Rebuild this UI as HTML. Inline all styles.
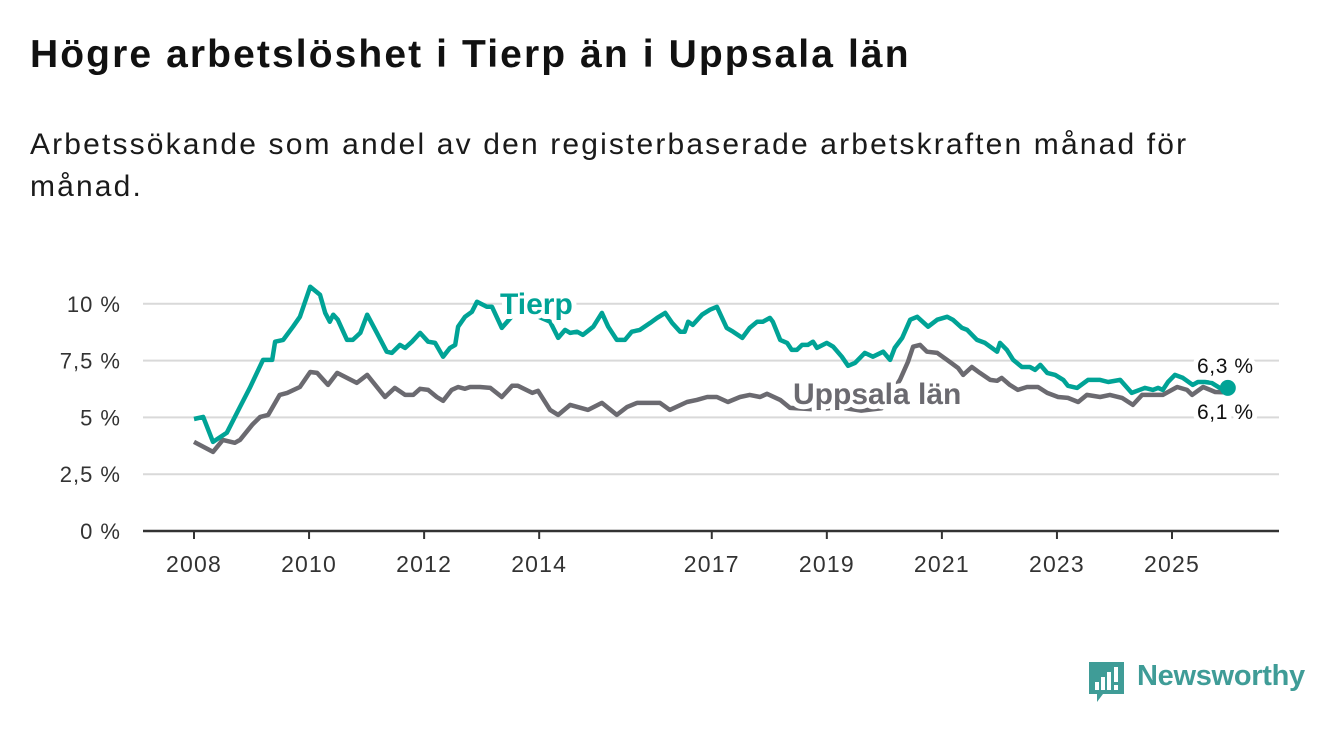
<!DOCTYPE html>
<html><head><meta charset="utf-8"><style>
body{margin:0;width:1340px;height:734px;background:#fff;overflow:hidden;font-family:"Liberation Sans",sans-serif;color:#111}
#title{position:absolute;left:30px;top:33px;font-size:39px;letter-spacing:2.1px;font-weight:bold;margin:0;white-space:nowrap}
#sub{position:absolute;left:30px;top:124px;font-size:30px;letter-spacing:2.15px;line-height:42px;width:1300px;color:#1a1a1a;white-space:nowrap}
svg{position:absolute;left:0;top:0}
.lbl{font-family:"Liberation Sans",sans-serif;paint-order:stroke;stroke:#fff;stroke-width:10px;stroke-linejoin:round}
</style></head><body>
<h1 id="title">Högre arbetslöshet i Tierp än i Uppsala län</h1>
<div id="sub">Arbetssökande som andel av den registerbaserade arbetskraften månad för<br>månad.</div>
<svg id="chart" width="1340" height="734"></svg>
<div style="position:absolute;left:1089px;top:662px;">
<svg width="36" height="42" style="position:static"><path d="M0 0H35V32H14L8 40V32H0Z" fill="#3f9c97"/><rect x="6" y="20" width="4" height="8" fill="#fff"/><rect x="12" y="15" width="4" height="13" fill="#fff"/><rect x="18" y="10" width="4" height="18" fill="#fff"/><rect x="25" y="5" width="4" height="15" fill="#fff"/><rect x="25" y="23" width="4" height="5" fill="#fff"/></svg>
<span style="position:absolute;left:48px;top:-2px;font-size:29px;color:#3f9c97;font-weight:bold;white-space:nowrap;letter-spacing:-0.3px">Newsworthy</span></div>
<script>
const yTicks=[0,2.5,5,7.5,10];
const yTickLabels=["0 %","2,5 %","5 %","7,5 %","10 %"];
const xTicks=[2008,2010,2012,2014,2017,2019,2021,2023,2025];
const tierpDates=[2008.0,2008.16,2008.33,2008.57,2008.8,2008.97,2009.2,2009.36,2009.41,2009.55,2009.72,2009.84,2010.02,2010.19,2010.28,2010.36,2010.42,2010.5,2010.66,2010.76,2010.89,2011.01,2011.18,2011.35,2011.44,2011.58,2011.67,2011.79,2011.93,2012.07,2012.19,2012.33,2012.45,2012.54,2012.59,2012.71,2012.83,2012.92,2013.09,2013.18,2013.35,2013.65,2014.19,2014.33,2014.45,2014.54,2014.66,2014.76,2014.94,2015.09,2015.2,2015.35,2015.49,2015.61,2015.75,2015.93,2016.05,2016.19,2016.31,2016.45,2016.53,2016.59,2016.67,2016.83,2016.97,2017.09,2017.26,2017.37,2017.53,2017.66,2017.79,2017.89,2018.01,2018.06,2018.19,2018.31,2018.39,2018.48,2018.57,2018.67,2018.76,2018.83,2019.0,2019.11,2019.26,2019.37,2019.49,2019.66,2019.8,2019.98,2020.1,2020.18,2020.31,2020.45,2020.57,2020.76,2020.92,2021.09,2021.19,2021.35,2021.44,2021.61,2021.75,2021.96,2022.01,2022.13,2022.24,2022.39,2022.53,2022.62,2022.71,2022.83,2022.97,2023.11,2023.19,2023.35,2023.54,2023.75,2023.89,2024.1,2024.3,2024.53,2024.67,2024.76,2024.84,2024.93,2025.05,2025.19,2025.36,2025.45,2025.57,2025.69,2025.83,2025.97];
const tierpValues=[4.93,5.02,3.92,4.32,5.46,6.3,7.53,7.53,8.33,8.41,8.99,9.43,10.75,10.4,9.6,9.21,9.52,9.3,8.41,8.41,8.72,9.52,8.72,7.89,7.84,8.19,8.06,8.33,8.72,8.33,8.28,7.67,8.06,8.19,8.99,9.43,9.65,10.09,9.87,9.87,8.94,9.8,9.21,8.5,8.85,8.72,8.77,8.63,8.99,9.6,8.99,8.41,8.41,8.77,8.85,9.16,9.38,9.6,9.16,8.77,8.77,9.21,9.07,9.52,9.74,9.87,8.94,8.77,8.5,8.94,9.21,9.21,9.38,9.21,8.41,8.28,7.97,7.97,8.19,8.19,8.33,8.06,8.28,8.11,7.67,7.27,7.4,7.84,7.67,7.89,7.53,8.06,8.5,9.3,9.43,8.99,9.3,9.43,9.3,8.94,8.85,8.41,8.28,7.89,8.28,7.97,7.53,7.22,7.22,7.09,7.31,6.96,6.87,6.65,6.39,6.3,6.65,6.65,6.56,6.65,6.08,6.3,6.21,6.3,6.21,6.56,6.87,6.74,6.43,6.56,6.56,6.52,6.3,6.3];
const uppDates=[2008.0,2008.33,2008.5,2008.71,2008.8,2009.01,2009.15,2009.29,2009.49,2009.62,2009.84,2010.02,2010.14,2010.33,2010.49,2010.83,2011.01,2011.11,2011.32,2011.49,2011.67,2011.81,2011.93,2012.07,2012.22,2012.33,2012.48,2012.59,2012.71,2012.8,2012.97,2013.15,2013.35,2013.53,2013.63,2013.88,2013.98,2014.19,2014.33,2014.54,2014.85,2015.09,2015.35,2015.53,2015.7,2016.1,2016.27,2016.57,2016.74,2016.92,2017.09,2017.28,2017.49,2017.66,2017.84,2017.96,2018.19,2018.36,2018.8,2019.2,2019.6,2019.95,2020.27,2020.41,2020.5,2020.62,2020.74,2020.92,2021.09,2021.28,2021.37,2021.52,2021.66,2021.84,2021.96,2022.04,2022.18,2022.32,2022.48,2022.67,2022.83,2023.02,2023.19,2023.37,2023.52,2023.75,2023.92,2024.13,2024.32,2024.48,2024.84,2025.09,2025.26,2025.35,2025.54,2025.75,2025.97];
const uppValues=[3.92,3.48,4.01,3.88,4.01,4.67,5.02,5.11,5.99,6.08,6.34,7.0,6.96,6.43,6.96,6.52,6.87,6.56,5.9,6.3,5.99,5.99,6.26,6.21,5.9,5.73,6.21,6.34,6.26,6.34,6.34,6.3,5.9,6.39,6.39,6.08,6.17,5.33,5.11,5.55,5.33,5.64,5.11,5.46,5.64,5.64,5.33,5.68,5.77,5.9,5.9,5.68,5.9,5.99,5.9,6.04,5.77,5.42,5.35,5.45,5.3,5.4,6.65,7.44,8.11,8.19,7.89,7.84,7.53,7.18,6.87,7.22,6.96,6.65,6.61,6.74,6.43,6.21,6.34,6.34,6.08,5.9,5.86,5.68,5.99,5.9,5.99,5.86,5.55,5.99,5.99,6.34,6.21,5.99,6.34,6.12,6.1];
const endLabels=["6,3 %","6,1 %"];
const NS="http://www.w3.org/2000/svg";
const svg=document.getElementById('chart');
const X0=194,PX_YEAR=57.53,Y0=531,PX_UNIT=22.72;
function xs(d){return X0+(d-2008)*PX_YEAR;}
function ys(v){return Y0-v*PX_UNIT;}
function mk(t,a){const e=document.createElementNS(NS,t);for(const k in a)e.setAttribute(k,a[k]);svg.appendChild(e);return e;}
yTicks.forEach((v,i)=>{
  if(v>0){const g=mk('line',{x1:143,x2:1279,y1:ys(v),y2:ys(v),stroke:'#d9d9d9','stroke-width':2});
  
  }
  const t=mk('text',{x:121,y:ys(v)+8,'text-anchor':'end','font-size':22,'letter-spacing':1,fill:'#333','font-family':'Liberation Sans, sans-serif'});
  t.textContent=yTickLabels[i];
  
  
});
const ax=mk('line',{x1:143,x2:1279,y1:Y0,y2:Y0,stroke:'#333','stroke-width':2.5});


xTicks.forEach(y=>{
  const tk=mk('line',{x1:xs(y),x2:xs(y),y1:Y0,y2:Y0+8,stroke:'#333','stroke-width':2});
  
  
  const t=mk('text',{x:xs(y),y:572,'text-anchor':'middle','font-size':23,'letter-spacing':1.2,fill:'#333','font-family':'Liberation Sans, sans-serif'});
  t.textContent=y;
  
  
});
function path(d,v){return d.map((x,i)=>(i?'L':'M')+xs(x).toFixed(1)+' '+ys(v[i]).toFixed(1)).join('');}
const pu=mk('path',{d:path(uppDates,uppValues),fill:'none',stroke:'#6b6a70','stroke-width':4.5,'stroke-linejoin':'round'});


const pt=mk('path',{d:path(tierpDates,tierpValues),fill:'none',stroke:'#00a396','stroke-width':4.5,'stroke-linejoin':'round'});


const lt=tierpDates.length-1;
const dot=mk('circle',{cx:xs(tierpDates[lt]),cy:ys(tierpValues[lt]),r:8,fill:'#00a396'});


const l1=mk('text',{x:500,y:314,'font-size':30,'font-weight':'bold',fill:'#00a396',class:'lbl'});
l1.textContent='Tierp';


const l2=mk('text',{x:793,y:404,'font-size':30,'font-weight':'bold',fill:'#6b6a70',class:'lbl'});
l2.textContent='Uppsala län';


const e1=mk('text',{x:1197,y:373,'font-size':21,'letter-spacing':0.6,fill:'#111',class:'lbl'});
e1.textContent=endLabels[0];


const e2=mk('text',{x:1197,y:419,'font-size':21,'letter-spacing':0.6,fill:'#111',class:'lbl'});
e2.textContent=endLabels[1];


</script>
</body></html>
